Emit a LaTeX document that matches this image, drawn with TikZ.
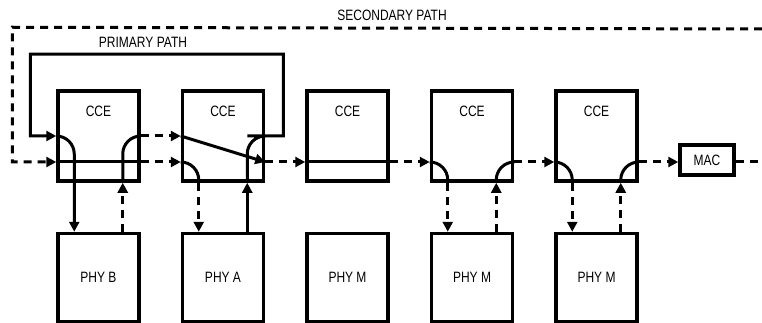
\documentclass[tikz,border=0pt]{standalone}
\usepackage{fontspec}
\newfontfamily\cadfont[FakeStretch=0.8]{Liberation Sans}
\usetikzlibrary{arrows.meta,calc}

\begin{document}
\begin{tikzpicture}[x=1pt,y=-1pt,
  every node/.style={font=\cadfont\fontsize{15}{17}\selectfont},
  box/.style={draw,line width=3.5pt,minimum width=81pt,minimum height=90pt,inner sep=0pt},
  wire/.style={line width=3pt},
  dwire/.style={wire,dash pattern=on 8pt off 6pt},
  tip/.style={-{Triangle[length=10pt,width=10pt]}}]
  \useasboundingbox (0,0) rectangle (762,323);
  \foreach \i/\x/\p in {1/98.5/B,2/223/A,3/347.5/M,4/472/M,5/596.5/M}{
    \node[box,label={[anchor=center,yshift=-22pt]north:CCE}] (cce\i) at (\x,136) {};
    \node[box,minimum height=88pt] (phy\i) at (\x,277.5) {PHY \p};
    \coordinate (cce\i-pi) at (cce\i.west); \coordinate (cce\i-po) at (cce\i.east);
    \coordinate (cce\i-mi) at ($(cce\i.west)+(0,26)$); \coordinate (cce\i-mo) at ($(cce\i.east)+(0,26)$);
    \coordinate (cce\i-dn) at ($(cce\i.south west)+(18,0)$); \coordinate (cce\i-up) at ($(cce\i.south east)+(-18,0)$);
    \coordinate (phy\i-dn) at ($(phy\i.north west)+(18,0)$); \coordinate (phy\i-up) at ($(phy\i.north east)+(-18,0)$);
  }
  \node[box,minimum width=54pt,minimum height=30pt] (mac) at (707,160) {MAC};
  \coordinate (secl) at ($(cce1.north west)+(-44,-62)$); \coordinate (secr) at (762,29);
  \coordinate (pritl) at ($(cce1.north west)+(-26,-35)$); \coordinate (pritr) at ($(cce2.north east)+(18,-35)$);
  \coordinate (macr) at (762,162);
  \node (lblsec) at (392,15.5) {SECONDARY PATH};
  \node (lblpri) at (143,42) {PRIMARY PATH};
  % primary path
  \draw[wire,tip] (phy2-up) -- (cce2-up);
  \draw[wire,tip] (cce2-up) [rounded corners=18pt] |- (cce2-po) [sharp corners] -| (pritr) -- (pritl) |- (cce1-pi);
  \draw[wire,tip,rounded corners=18pt] (cce1-pi) -| (cce1-dn) -- (phy1-dn);
  % secondary path
  \draw[dwire,tip] (secr) -- (secl) |- (cce1-mi);
  \draw[wire] (cce1-mi) -- (cce1-mo);
  \draw[dwire,tip] (cce1-mo) -- (cce2-mi);
  \draw[wire,rounded corners=18pt] (cce2-mi) -| (cce2-dn);
  \draw[dwire,tip] (cce2-dn) -- (phy2-dn);
  \draw[dwire,tip] (phy1-up) -- (cce1-up);
  \draw[wire,rounded corners=18pt] (cce1-up) |- (cce1-po);
  \draw[dwire,tip] (cce1-po) -- (cce2-pi);
  \draw[wire,tip] (cce2-pi) -- (cce2-mo);
  \draw[dwire,tip] (cce2-mo) -- (cce3-mi);
  \draw[wire] (cce3-mi) -- (cce3-mo);
  \draw[dwire,tip] (cce3-mo) -- (cce4-mi);
  \foreach \i in {4,5}{
    \draw[wire,rounded corners=18pt] (cce\i-mi) -| (cce\i-dn);
    \draw[dwire,tip] (cce\i-dn) -- (phy\i-dn);
    \draw[dwire,tip] (phy\i-up) -- (cce\i-up);
    \draw[wire,rounded corners=18pt] (cce\i-up) |- (cce\i-mo);
  }
  \draw[dwire,tip] (cce4-mo) -- (cce5-mi);
  \draw[dwire,tip] (cce5-mo) -- (cce5-mo -| mac.west);
  \draw[dwire] (macr -| mac.east) -- (macr);
\end{tikzpicture}
\end{document}
